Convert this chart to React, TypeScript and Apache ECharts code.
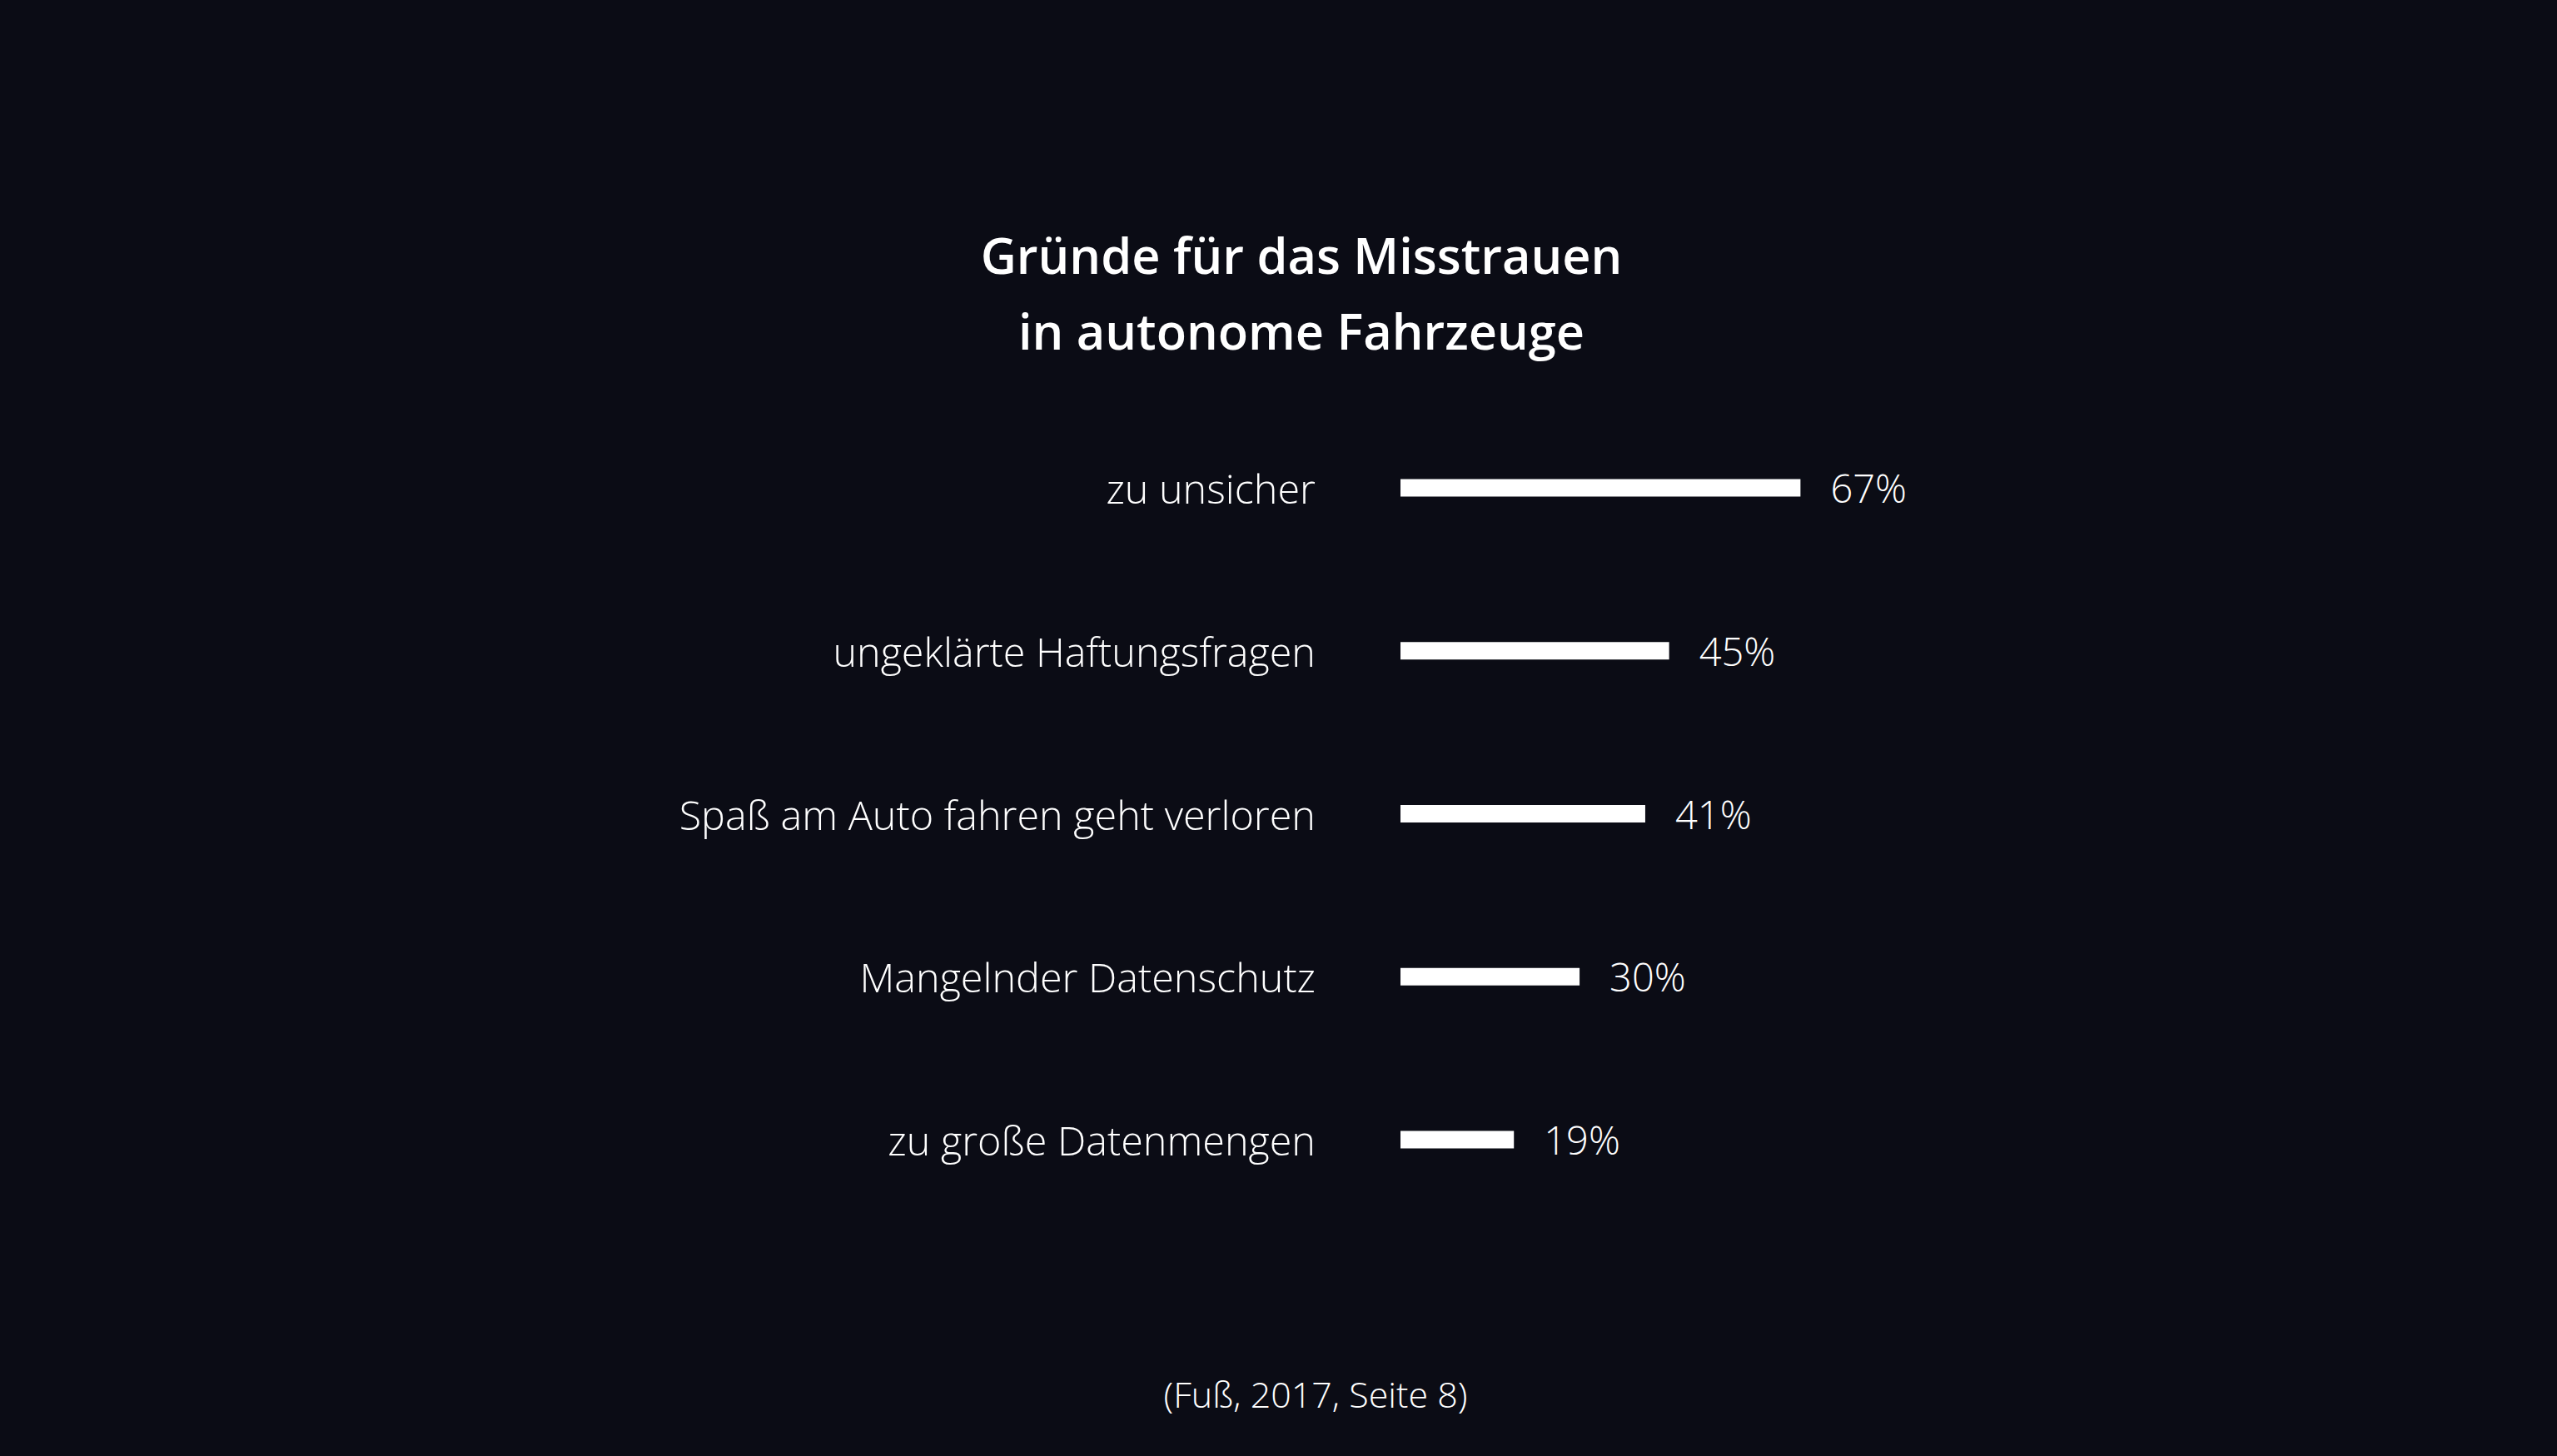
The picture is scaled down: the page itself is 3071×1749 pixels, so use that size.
import React, { useEffect, useRef } from "react";
import * as echarts from "echarts";

const categories = [
  "zu unsicher",
  "ungeklärte Haftungsfragen",
  "Spaß am Auto fahren geht verloren",
  "Mangelnder Datenschutz",
  "zu große Datenmengen",
];
const values = [67, 45, 41, 30, 19];
const titleText = "Gründe für das Misstrauen\nin autonome Fahrzeuge";
const sourceText = "(Fuß, 2017, Seite 8)";

const BG = "#0b0c15";
const FONT = "'Open Sans', 'Noto Sans', sans-serif";

export default function App() {
  const ref = useRef<HTMLDivElement>(null);
  useEffect(() => {
    document.body.style.margin = "0";
    document.body.style.background = BG;
    const chart = echarts.init(ref.current!, null, { renderer: "svg" });
    chart.setOption({
      animation: false,
      backgroundColor: BG,
      title: {
        text: titleText,
        left: 1558,
        top: 255,
        textAlign: "center",
        textStyle: {
          color: "#ffffff",
          fontFamily: FONT,
          fontSize: 59.5,
          fontWeight: 600,
          lineHeight: 91,
        },
      },
      grid: { left: 1682, top: 488, width: 717, height: 979, containLabel: false },
      xAxis: {
        type: "value",
        min: 0,
        max: 100,
        show: false,
      },
      yAxis: {
        type: "category",
        data: categories,
        inverse: true,
        axisLine: { show: false },
        axisTick: { show: false },
        splitLine: { show: false },
        axisLabel: {
          color: "#ffffff",
          fontFamily: FONT,
          fontSize: 48.5,
          fontWeight: 300,
          margin: 102,
        },
      },
      series: [
        {
          type: "bar",
          data: values,
          barWidth: 21,
          itemStyle: { color: "#ffffff" },
          label: {
            show: true,
            position: "right",
            distance: 36,
            formatter: "{c}%",
            color: "#ffffff",
            fontFamily: FONT,
            fontSize: 47,
            fontWeight: 300,
          },
        },
      ],
      graphic: [
        {
          type: "text",
          x: 1580,
          y: 1674,
          style: {
            text: sourceText,
            fill: "#ffffff",
            font: `300 43px ${FONT}`,
            textAlign: "center",
            textVerticalAlign: "middle",
          },
        },
      ],
    });
    return () => chart.dispose();
  }, []);
  return (
    <div
      ref={ref}
      style={{ position: "fixed", left: 0, top: 0, width: 3071, height: 1749 }}
    />
  );
}
